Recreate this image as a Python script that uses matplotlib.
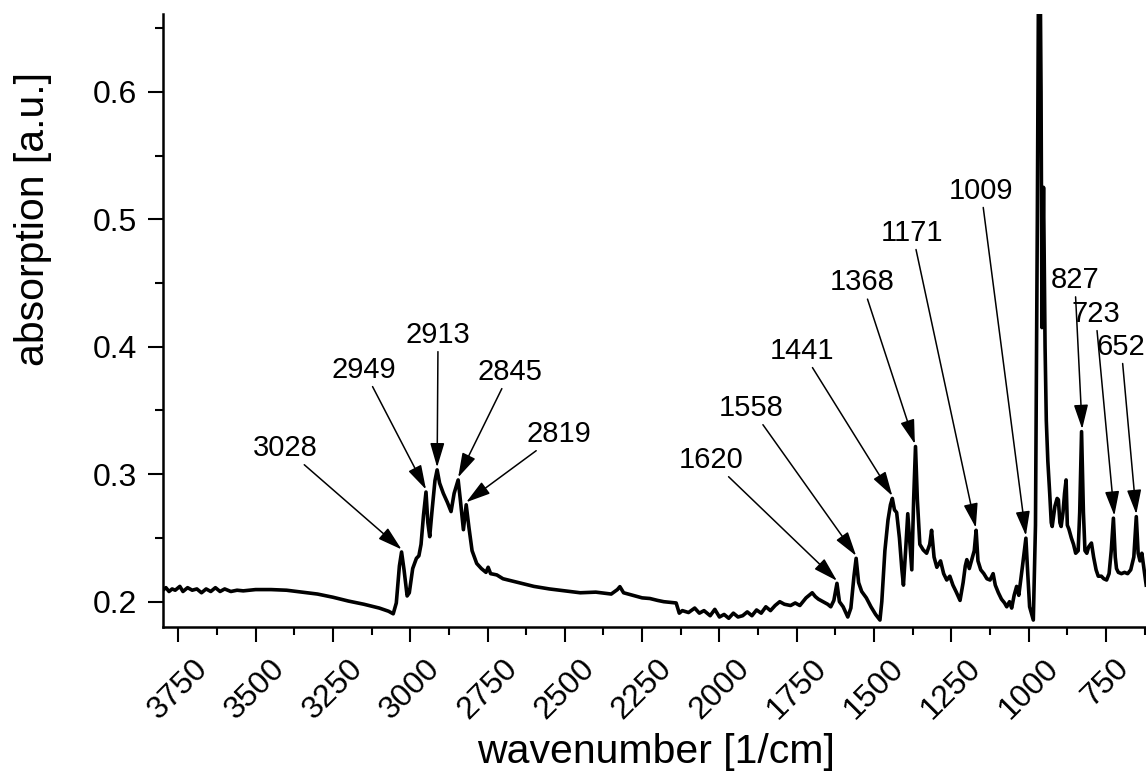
import matplotlib
matplotlib.use("Agg")
import matplotlib.pyplot as plt
from matplotlib.ticker import MultipleLocator, FormatStrFormatter

plt.rcParams['font.family'] = ['Liberation Sans', 'DejaVu Sans']

# spectrum (wavenumber in 1/cm, absorption)
wavenumber = [
    3800, 3790, 3780, 3770, 3760, 3745, 3735, 3720, 3705, 3690, 3675, 3660,
    3645, 3630, 3615, 3600, 3580, 3560, 3540, 3500, 3450, 3400, 3350, 3300,
    3250, 3200, 3150, 3100, 3070, 3055, 3045, 3035, 3028, 3020, 3010, 3003,
    2992, 2980, 2972, 2965, 2957, 2949, 2943, 2937, 2930, 2920, 2913, 2905,
    2893, 2880, 2868, 2858, 2845, 2838, 2828, 2819, 2810, 2800, 2785, 2770,
    2755, 2748, 2740, 2720, 2700, 2650, 2600, 2550, 2500, 2450, 2400, 2350,
    2330, 2322, 2310, 2280, 2250, 2225, 2200, 2180, 2160, 2140, 2130, 2120,
    2100, 2080, 2065, 2050, 2030, 2015, 2000, 1985, 1970, 1955, 1940, 1925,
    1910, 1895, 1880, 1865, 1850, 1835, 1820, 1805, 1790, 1770, 1755, 1740,
    1720, 1700, 1690, 1680, 1665, 1650, 1640, 1630, 1620, 1612, 1600, 1585,
    1575, 1565, 1558, 1550, 1540, 1525, 1510, 1495, 1481, 1475, 1465, 1455,
    1447, 1441, 1434, 1427, 1418, 1410, 1405, 1398, 1391, 1384, 1378, 1372,
    1366, 1360, 1352, 1341, 1330, 1320, 1314, 1306, 1297, 1285, 1275, 1265,
    1255, 1245, 1235, 1222, 1212, 1205, 1200, 1192, 1185, 1176, 1170, 1164,
    1155, 1145, 1135, 1125, 1115, 1108, 1098, 1088, 1078, 1071, 1062, 1055,
    1047, 1039, 1032, 1020, 1009, 1003, 997, 985, 978, 972, 966, 960,
    957, 952, 947, 943, 938, 932, 927, 924, 915, 908, 904, 899,
    895, 889, 884, 879, 875, 870, 862, 855, 848, 840, 835, 829,
    823, 818, 812, 806, 797, 790, 782, 775, 765, 757, 748, 740,
    733, 726, 720, 716, 710, 700, 690, 680, 670, 660, 652, 646,
    640, 634, 620,
]
absorption = [
    0.209, 0.211, 0.208, 0.210, 0.209, 0.212, 0.208, 0.211, 0.209, 0.210, 0.207, 0.210,
    0.208, 0.211, 0.208, 0.210, 0.208, 0.209, 0.2085, 0.2095, 0.2095, 0.209, 0.2075, 0.206,
    0.2035, 0.2005, 0.198, 0.195, 0.1925, 0.1905, 0.199, 0.228, 0.239, 0.225, 0.2045, 0.207,
    0.226, 0.234, 0.236, 0.245, 0.268, 0.286, 0.262, 0.251, 0.270, 0.295, 0.3034, 0.293,
    0.285, 0.278, 0.2707, 0.285, 0.2955, 0.280, 0.2565, 0.276, 0.258, 0.240, 0.230, 0.226,
    0.223, 0.227, 0.222, 0.221, 0.218, 0.215, 0.212, 0.210, 0.2085, 0.207, 0.2075, 0.206,
    0.2095, 0.2118, 0.207, 0.205, 0.203, 0.2025, 0.201, 0.200, 0.1995, 0.199, 0.191, 0.193,
    0.1915, 0.195, 0.191, 0.193, 0.189, 0.194, 0.188, 0.190, 0.187, 0.191, 0.188, 0.189,
    0.192, 0.189, 0.1935, 0.191, 0.196, 0.193, 0.197, 0.200, 0.198, 0.197, 0.199, 0.197,
    0.203, 0.207, 0.204, 0.202, 0.200, 0.198, 0.196, 0.201, 0.2144, 0.200, 0.196, 0.188,
    0.195, 0.220, 0.234, 0.215, 0.208, 0.203, 0.196, 0.190, 0.1856, 0.200, 0.240, 0.264,
    0.276, 0.281, 0.272, 0.270, 0.250, 0.225, 0.213, 0.240, 0.269, 0.245, 0.225, 0.280,
    0.3217, 0.280, 0.245, 0.2406, 0.238, 0.245, 0.256, 0.235, 0.227, 0.232, 0.222, 0.217,
    0.220, 0.213, 0.208, 0.201, 0.215, 0.228, 0.233, 0.226, 0.232, 0.240, 0.256, 0.232,
    0.225, 0.222, 0.218, 0.217, 0.222, 0.213, 0.207, 0.202, 0.199, 0.196, 0.200, 0.195,
    0.205, 0.212, 0.205, 0.228, 0.2498, 0.222, 0.196, 0.1856, 0.260, 0.500, 0.800, 0.600,
    0.415, 0.525, 0.400, 0.342, 0.310, 0.285, 0.262, 0.259, 0.275, 0.281, 0.280, 0.262,
    0.259, 0.270, 0.285, 0.2955, 0.260, 0.257, 0.250, 0.245, 0.238, 0.240, 0.270, 0.3334,
    0.270, 0.240, 0.238, 0.243, 0.246, 0.235, 0.225, 0.220, 0.220, 0.218, 0.217, 0.222,
    0.240, 0.2655, 0.235, 0.226, 0.223, 0.222, 0.223, 0.222, 0.225, 0.235, 0.2667, 0.238,
    0.232, 0.238, 0.213,
]

# labelled bands and the height of each band
peaks = [3028, 2949, 2913, 2845, 2819, 1620, 1558, 1441, 1368, 1171, 1009, 827, 723, 652]
peak_heights = [0.239, 0.286, 0.3034, 0.2955, 0.276, 0.2144, 0.234, 0.281, 0.3217,
                0.256, 0.2498, 0.3334, 0.2655, 0.2667]

# where the label texts sit (data coordinates)
label_x = [3405, 3150, 2910, 2677, 2519, 2027, 1898, 1733, 1539, 1376, 1154, 851, 784, 701]
label_y = [0.3206, 0.3819, 0.4093, 0.3803, 0.3316, 0.3112, 0.352, 0.3968, 0.4505,
           0.4894, 0.5224, 0.4523, 0.4258, 0.400]

fig = plt.figure(figsize=(11.46, 7.78), dpi=100)
ax = fig.add_axes([0.1425, 0.1945, 0.8575, 0.7875])

ax.plot(wavenumber, absorption, color='black', linewidth=2.6, solid_joinstyle='round')

for p, h, tx, ty in zip(peaks, peak_heights, label_x, label_y):
    ax.annotate(str(p), xy=(p, h + 0.002), xytext=(tx, ty),
                ha='center', va='center', fontsize=21,
                arrowprops=dict(arrowstyle='-|>,head_length=0.75,head_width=0.22',
                                mutation_scale=20, color='black', lw=1.1,
                                shrinkA=0, shrinkB=0))

ax.set_xlim(3798.5, 620.6)
ax.set_ylim(0.1804, 0.661)

ax.xaxis.set_major_locator(MultipleLocator(250))
ax.xaxis.set_minor_locator(MultipleLocator(125))
ax.yaxis.set_major_locator(MultipleLocator(0.1))
ax.yaxis.set_minor_locator(MultipleLocator(0.05))
ax.yaxis.set_major_formatter(FormatStrFormatter('%.1f'))

ax.spines['top'].set_visible(False)
ax.spines['right'].set_visible(False)
for s in ['left', 'bottom']:
    ax.spines[s].set_linewidth(1.8)

ax.tick_params(which='major', direction='out', length=11, width=1.5, labelsize=23, pad=8)
ax.tick_params(which='minor', direction='out', length=6, width=1.5)
plt.setp(ax.get_xticklabels(), rotation=45, ha='center', va='top')

ax.set_xlabel('wavenumber [1/cm]', fontsize=29.5)
ax.set_ylabel('absorption [a.u.]', fontsize=29.5)
ax.xaxis.set_label_coords(0.5014, -0.2045)
ax.xaxis.label.set_va('center')
ax.yaxis.set_label_coords(-0.1326, 0.665)
ax.yaxis.label.set_va('center')

fig.savefig('out.png', dpi=100)
